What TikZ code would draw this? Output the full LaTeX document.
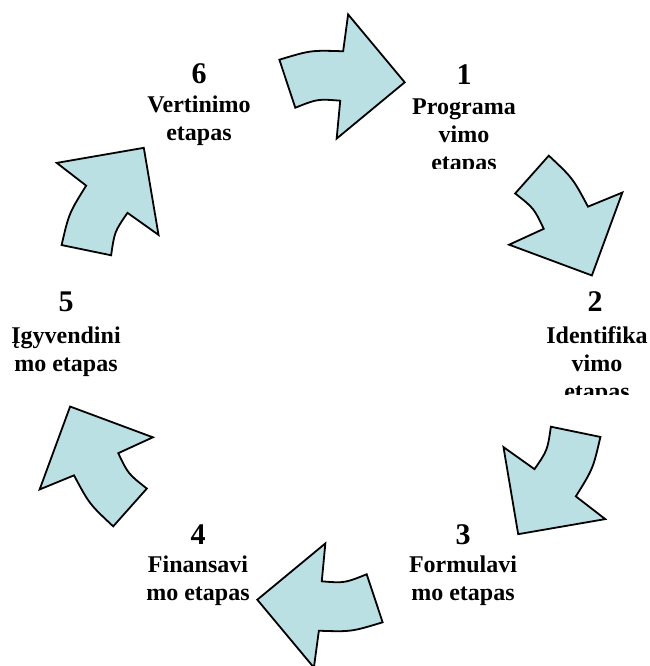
\documentclass[tikz,border=0pt]{standalone}
\usepackage{fontspec}
\setmainfont{Liberation Serif}
\definecolor{arrowfill}{RGB}{186,224,228}
\begin{document}
\begin{tikzpicture}[x=1pt,y=-1pt,
  cyc/.style={draw=black, line width=1.8pt, fill=arrowfill, line join=miter},
  digit/.style={font=\fontsize{30}{30}\selectfont\bfseries, inner sep=0pt},
  lbl/.style={font=\fontsize{24}{28}\selectfont\bfseries, align=center, inner sep=0pt, anchor=north}]
\useasboundingbox (0,0) rectangle (649,666);
% six curved arrows, each rotated 60 degrees clockwise from the previous
\foreach \k in {0,...,5}{
  \begin{scope}[shift={(331,341)}, y=1pt, rotate=-60*\k]
    \draw[cyc] (100.4:286) .. controls (94:291.5) .. (87.6:290) -- (87.0:327)
      -- (74.1:269) -- (88.4:202.5) -- (87.8:240.5)
      .. controls (93.2:242.5) .. (98.7:236) -- cycle;
  \end{scope}
}
% labels
\node[digit] (d1) at (464,75) {1};
\begin{scope}
  \clip (400,90) rectangle (530,168);
  \node[lbl] (t1) at (464,99) {Programa\\vimo\\etapas};
\end{scope}
\node[digit] (d2) at (595,302) {2};
\begin{scope}
  \clip (530,315) rectangle (649,394);
  \node[lbl] (t2) at (597,326) {Identifika\\vimo\\etapas};
\end{scope}
\node[digit] (d3) at (463,535) {3};
\node[lbl] (t3) at (463,556) {Formulavi\\mo etapas};
\node[digit] (d4) at (198,535) {4};
\node[lbl] (t4) at (198,556) {Finansavi\\mo etapas};
\node[digit] (d5) at (66,302) {5};
\node[lbl] (t5) at (66,327) {Įgyvendini\\mo etapas};
\node[digit] (d6) at (199,74) {6};
\node[lbl] (t6) at (199,96) {Vertinimo\\etapas};
\end{tikzpicture}
\end{document}
